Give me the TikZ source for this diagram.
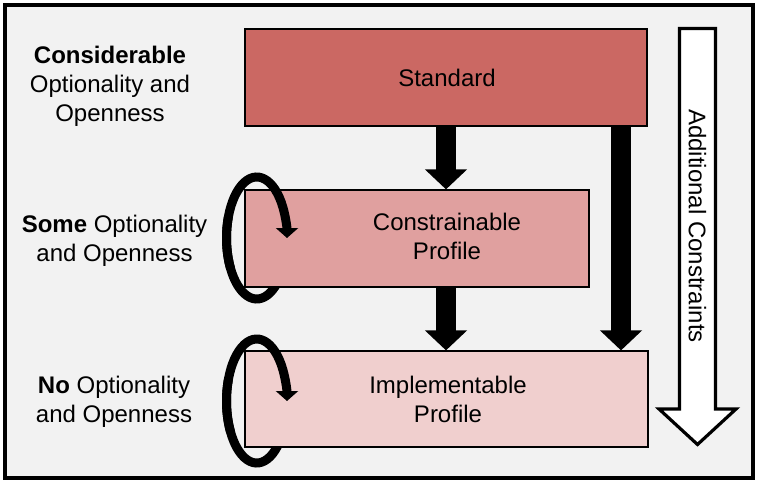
\documentclass[tikz,border=0pt]{standalone}
\usepackage{fontspec}
\setmainfont{Liberation Sans}
\usetikzlibrary{arrows.meta}
\definecolor{bg}{RGB}{242,242,242}
\definecolor{stdred}{RGB}{203,104,99}
\definecolor{conred}{RGB}{224,160,159}
\definecolor{impred}{RGB}{240,207,206}
\begin{document}
\begin{tikzpicture}[x=0.75pt,y=-0.75pt,
  txt/.style={font=\fontsize{18}{21.75}\selectfont, align=center, inner sep=0pt},
  box/.style={draw=black, line width=0.9pt, inner sep=0pt},
  blockarrow/.style={line width=15pt, -{Triangle[width=30.75pt,length=15pt]}},
  loop/.style={line width=6.75pt, -{Triangle[width=16.5pt,length=7.5pt]}}]
\useasboundingbox (0,0) rectangle (762,485);
\draw[line width=3pt, fill=bg] (5.2,5.2) rectangle (753,477.5);

% loops, lower part (hidden behind boxes)
\coordinate (c1) at (256.75,238);
\coordinate (c2) at (256.75,401);
\draw[line width=6.75pt] (c1) ++(30:30.25 and 61) arc[start angle=30, end angle=200, x radius=30.25, y radius=61];
\draw[line width=6.75pt] (c2) ++(30:30.25 and 62) arc[start angle=30, end angle=200, x radius=30.25, y radius=62];

% boxes
\node[box, fill=stdred, minimum width=301.5pt, minimum height=72.75pt] (std) at (446,77.5) {};
\node[box, fill=conred, minimum width=258pt, minimum height=72.75pt] (con) at (417,238.5) {};
\node[box, fill=impred, minimum width=302.25pt, minimum height=72pt] (imp) at (446.5,399) {};
\node[txt] (stdtxt) at (447,78) {Standard};
\node[txt] (contxt) at (447,236) {Constrainable\\Profile};
\node[txt] (imptxt) at (448,399) {Implementable\\Profile};

% loops, upper part (over boxes)
\draw[loop] (c1) ++(150:30.25 and 61) arc[start angle=150, end angle=360, x radius=30.25, y radius=61];
\draw[loop] (c2) ++(150:30.25 and 62) arc[start angle=150, end angle=360, x radius=30.25, y radius=62];

% left labels
\node[txt] (l1) at (110,86) {\textbf{Considerable}\\Optionality and\\Openness};
\node[txt] (l2) at (114.5,241) {\textbf{Some} Optionality\\and Openness};
\node[txt] (l3) at (114,401.5) {\textbf{No} Optionality\\and Openness};

% block arrows
\draw[blockarrow] (std.south) -- (std.south |- con.north);
\draw[blockarrow] (con.south -| std.south) -- (std.south |- imp.north);
\coordinate (a3) at (621,126);
\draw[blockarrow] (a3) -- (a3 |- imp.north);

% big arrow
\draw[line width=2.4pt, fill=white, line join=miter]
  (679.5,28.5) -- (715.5,28.5) -- (715.5,409) -- (736,409) -- (697.5,444.5) -- (659,409) -- (679.5,409) -- cycle;
\node[txt, rotate=-90] (addc) at (697.5,226) {Additional Constraints};
\end{tikzpicture}
\end{document}
